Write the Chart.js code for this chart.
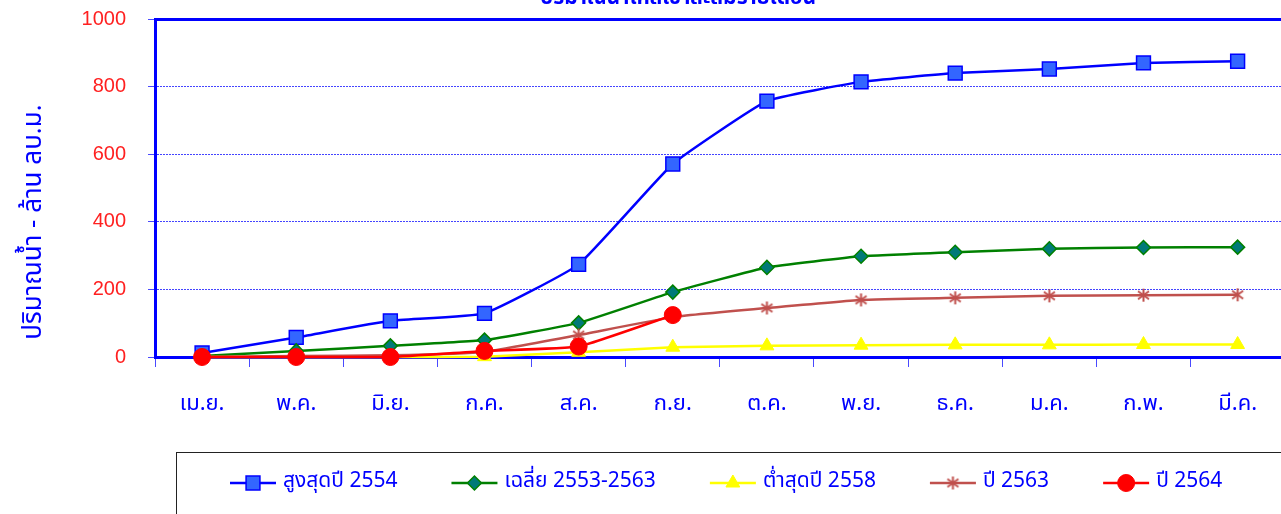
<!DOCTYPE html>
<html>
<head>
<meta charset="utf-8">
<script src="https://cdn.jsdelivr.net/npm/chart.js@4"></script>
<style>
  html, body { margin: 0; padding: 0; background: #fff; overflow: hidden; }
  canvas { display: block; }
</style>
</head>
<body>
<!-- canvas a bit wider than the window: the plot area runs off the right edge like the original -->
<canvas id="inflowChart" width="1296" height="514"></canvas>
<script>
// data (million m3, cumulative)
const months = ['เม.ย.', 'พ.ค.', 'มิ.ย.', 'ก.ค.', 'ส.ค.', 'ก.ย.', 'ต.ค.', 'พ.ย.', 'ธ.ค.', 'ม.ค.', 'ก.พ.', 'มี.ค.'];
const max2554 = [12, 58, 107, 129, 274, 571, 757, 814, 840, 852, 870, 875];
const avg2553to2563 = [3, 18, 33, 50, 101, 192, 265, 298, 310, 320, 324, 325];
const min2558 = [0, 0, 0, 1, 14, 29, 33, 35, 36, 36, 37, 37];
const year2563 = [0, 3, 5, 15, 65, 118, 145, 169, 175, 181, 183, 184];
const year2564 = [0, 0, 0, 18, 31, 124];
const seriesNames = ['สูงสุดปี 2554', 'เฉลี่ย 2553-2563', 'ต่ำสุดปี 2558', 'ปี 2563', 'ปี 2564'];
const yTickStep = 200;
const yMax = 1000;
const chartTitle = 'ปริมาณน้ำไหลเข้าสะสมรายเดือน';
const yTitle = 'ปริมาณน้ำ - ล้าน ลบ.ม.';

const thaiFont = "Tahoma, 'Noto Sans Thai', 'Noto Sans', sans-serif";

// excel style asterisk marker: vertical bar + X
function makeAsterisk(color) {
    const c = document.createElement('canvas');
    c.width = 15; c.height = 15;
    const g = c.getContext('2d');
    g.strokeStyle = color;
    g.lineWidth = 2;
    g.beginPath();
    g.moveTo(7.5, 1); g.lineTo(7.5, 14);
    g.moveTo(2, 3.5); g.lineTo(13, 11.5);
    g.moveTo(2, 11.5); g.lineTo(13, 3.5);
    g.stroke();
    return c;
}

// scales should not push the plot area around
const noScalePadding = s => {
    s.paddingTop = 0; s.paddingBottom = 0;
    s.paddingLeft = 0; s.paddingRight = 0;
};

// title, y title and the boxed legend
const frameAndLegend = {
    id: 'frameAndLegend',
    afterDraw(chart) {
        const ctx = chart.ctx;
        ctx.save();
        ctx.fillStyle = '#0000ff';
        ctx.font = 'bold 21px ' + thaiFont;
        ctx.textAlign = 'center';
        ctx.textBaseline = 'alphabetic';
        ctx.fillText(chartTitle, 678, 4);

        ctx.save();
        ctx.translate(41, 222);
        ctx.rotate(-Math.PI / 2);
        ctx.font = '26px ' + thaiFont;
        ctx.textBaseline = 'alphabetic';
        ctx.fillText(yTitle, 0, 0);
        ctx.restore();

        ctx.strokeStyle = '#222';
        ctx.lineWidth = 1;
        ctx.strokeRect(176.5, 452.5, 1200, 100);

        let x = 230;
        const y = 483;
        ctx.font = '21px ' + thaiFont;
        ctx.textAlign = 'left';
        ctx.textBaseline = 'middle';
        chart.data.datasets.forEach(ds => {
            ctx.strokeStyle = ds.borderColor;
            ctx.lineWidth = ds.borderWidth;
            ctx.beginPath();
            ctx.moveTo(x, y);
            ctx.lineTo(x + 46, y);
            ctx.stroke();
            ctx.fillStyle = ds.pointBackgroundColor;
            ctx.strokeStyle = ds.pointBorderColor;
            ctx.lineWidth = ds.pointBorderWidth;
            Chart.helpers.drawPoint(ctx, {
                pointStyle: ds.pointStyle,
                radius: ds.pointRadius,
                rotation: 0,
                borderWidth: ds.pointBorderWidth
            }, x + 23, y);
            ctx.fillStyle = '#0000ff';
            ctx.fillText(ds.label, x + 53, y);
            x += 53 + ctx.measureText(ds.label).width + 54;
        });
        ctx.restore();
    }
};

const ctx = document.getElementById('inflowChart').getContext('2d');
new Chart(ctx, {
    type: 'line',
    data: {
        labels: months,
        datasets: [{
            label: seriesNames[0],
            data: max2554,
            borderColor: '#0000ff',
            borderWidth: 2.5,
            pointStyle: 'rect',
            pointRadius: 9.8,
            pointBackgroundColor: '#3366ff',
            pointBorderColor: '#0000ff',
            pointBorderWidth: 1.5,
            order: 5
        }, {
            label: seriesNames[1],
            data: avg2553to2563,
            borderColor: '#008000',
            borderWidth: 2.5,
            pointStyle: 'rectRot',
            pointRadius: 7,
            pointBackgroundColor: '#007a78',
            pointBorderColor: '#008000',
            pointBorderWidth: 1.5,
            order: 4
        }, {
            label: seriesNames[2],
            data: min2558,
            borderColor: '#ffff00',
            borderWidth: 2.5,
            pointStyle: 'triangle',
            pointRadius: 8,
            pointBackgroundColor: '#ffff00',
            pointBorderColor: '#ffff00',
            pointBorderWidth: 1,
            order: 3
        }, {
            label: seriesNames[3],
            data: year2563,
            borderColor: '#c0504d',
            borderWidth: 2.5,
            pointStyle: makeAsterisk('#c0504d'),
            pointRadius: 7,
            pointBackgroundColor: '#c0504d',
            pointBorderColor: '#c0504d',
            pointBorderWidth: 1,
            order: 2
        }, {
            label: seriesNames[4],
            data: year2564,
            borderColor: '#ff0000',
            borderWidth: 2.5,
            pointStyle: 'circle',
            pointRadius: 8.5,
            pointBackgroundColor: '#ff0000',
            pointBorderColor: '#ff0000',
            pointBorderWidth: 1,
            order: 1
        }]
    },
    options: {
        responsive: false,
        animation: false,
        devicePixelRatio: 1,
        layout: { padding: { left: 0, top: 19, right: 0, bottom: 97 } },
        elements: { line: { tension: 0.12 } },
        datasets: { line: { clip: false } },
        plugins: {
            legend: { display: false },
            title: { display: false },
            tooltip: { enabled: false }
        },
        scales: {
            x: {
                type: 'category',
                offset: true,
                grid: {
                    offset: true,
                    drawOnChartArea: false,
                    tickLength: 10,
                    tickColor: '#4a4aff',
                    tickWidth: 1
                },
                border: { color: '#0000ff', width: 3 },
                ticks: {
                    color: '#0000ff',
                    padding: 25,
                    maxRotation: 0,
                    font: { size: 22, family: thaiFont }
                },
                afterFit: s => { s.height = 60; noScalePadding(s); }
            },
            xTop: {
                type: 'category',
                position: 'top',
                grid: { display: false },
                ticks: { display: false },
                border: { color: '#0000ff', width: 3 },
                afterFit: s => { s.height = 0; noScalePadding(s); }
            },
            y: {
                min: 0,
                max: yMax,
                ticks: {
                    stepSize: yTickStep,
                    color: '#ff2020',
                    padding: 22,
                    font: { size: 20, family: "'Liberation Sans', Arial, sans-serif" },
                    callback: v => String(v)
                },
                grid: {
                    color: c => (c.tick && (c.tick.value === 0 || c.tick.value === yMax)) ? 'rgba(0,0,0,0)' : '#4444ff',
                    lineWidth: 1,
                    tickLength: 7,
                    tickColor: '#4a4aff',
                    tickWidth: 1
                },
                border: { color: '#0000ff', width: 3, dash: [2, 1] },
                afterFit: s => { s.width = 155; noScalePadding(s); }
            }
        }
    },
    plugins: [frameAndLegend]
});
</script>
</body>
</html>
